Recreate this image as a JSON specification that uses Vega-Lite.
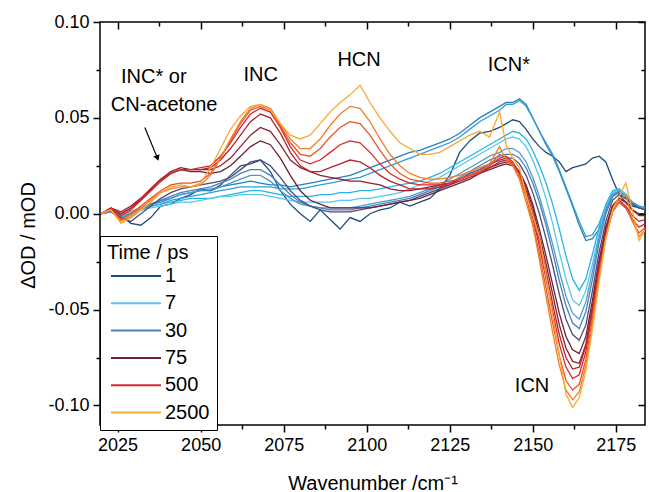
{
"$schema": "https://vega.github.io/schema/vega-lite/v6.json",
"width": 545, "height": 403,
"autosize": "none",
"padding": {"left": 100, "top": 22, "right": 4, "bottom": 67},
"config": {"font": "Liberation Sans", "view": {"stroke": "black", "strokeWidth": 1.5}},
"datasets": {
"spectra": [
{"t":"1","x":2020,"y":0},{"t":"1","x":2023,"y":0.002},{"t":"1","x":2026,"y":-0.001},{"t":"1","x":2029,"y":-0.005},{"t":"1","x":2032,"y":-0.006},{"t":"1","x":2035,"y":-0.002},{"t":"1","x":2038,"y":0.004},{"t":"1","x":2041,"y":0.005},{"t":"1","x":2044,"y":0.008},{"t":"1","x":2047,"y":0.01},{"t":"1","x":2050,"y":0.013},{"t":"1","x":2053,"y":0.012},{"t":"1","x":2056,"y":0.015},{"t":"1","x":2059,"y":0.02},{"t":"1","x":2062,"y":0.025},{"t":"1","x":2065,"y":0.026},{"t":"1","x":2068,"y":0.028},{"t":"1","x":2071,"y":0.022},{"t":"1","x":2074,"y":0.012},{"t":"1","x":2077,"y":0.005},{"t":"1","x":2080,"y":0},{"t":"1","x":2083,"y":-0.004},{"t":"1","x":2086,"y":0.002},{"t":"1","x":2089,"y":-0.003},{"t":"1","x":2092,"y":-0.008},{"t":"1","x":2095,"y":-0.002},{"t":"1","x":2098,"y":-0.004},{"t":"1","x":2101,"y":0},{"t":"1","x":2104,"y":0.002},{"t":"1","x":2107,"y":0.003},{"t":"1","x":2110,"y":0.006},{"t":"1","x":2113,"y":0.004},{"t":"1","x":2116,"y":0.006},{"t":"1","x":2119,"y":0.008},{"t":"1","x":2122,"y":0.013},{"t":"1","x":2125,"y":0.02},{"t":"1","x":2128,"y":0.032},{"t":"1","x":2131,"y":0.038},{"t":"1","x":2134,"y":0.042},{"t":"1","x":2137,"y":0.043},{"t":"1","x":2140,"y":0.045},{"t":"1","x":2142,"y":0.047},{"t":"1","x":2144,"y":0.049},{"t":"1","x":2146,"y":0.048},{"t":"1","x":2148,"y":0.044},{"t":"1","x":2150,"y":0.039},{"t":"1","x":2152,"y":0.035},{"t":"1","x":2154,"y":0.032},{"t":"1","x":2156,"y":0.03},{"t":"1","x":2158,"y":0.027},{"t":"1","x":2160,"y":0.022},{"t":"1","x":2162,"y":0.024},{"t":"1","x":2164,"y":0.025},{"t":"1","x":2166,"y":0.026},{"t":"1","x":2168,"y":0.029},{"t":"1","x":2170,"y":0.03},{"t":"1","x":2172,"y":0.027},{"t":"1","x":2174,"y":0.018},{"t":"1","x":2176,"y":0.01},{"t":"1","x":2178,"y":0.006},{"t":"1","x":2180,"y":0.004},{"t":"1","x":2182,"y":0.003},{"t":"1","x":2184,"y":0.002},
{"t":"2","x":2020,"y":0},{"t":"2","x":2023,"y":0.001},{"t":"2","x":2026,"y":-0.002},{"t":"2","x":2029,"y":0.001},{"t":"2","x":2032,"y":0.003},{"t":"2","x":2035,"y":0.005},{"t":"2","x":2038,"y":0.006},{"t":"2","x":2041,"y":0.008},{"t":"2","x":2044,"y":0.01},{"t":"2","x":2047,"y":0.011},{"t":"2","x":2050,"y":0.012},{"t":"2","x":2053,"y":0.012},{"t":"2","x":2056,"y":0.014},{"t":"2","x":2059,"y":0.015},{"t":"2","x":2062,"y":0.016},{"t":"2","x":2065,"y":0.017},{"t":"2","x":2068,"y":0.016},{"t":"2","x":2071,"y":0.015},{"t":"2","x":2074,"y":0.015},{"t":"2","x":2077,"y":0.014},{"t":"2","x":2080,"y":0.015},{"t":"2","x":2083,"y":0.016},{"t":"2","x":2086,"y":0.017},{"t":"2","x":2089,"y":0.018},{"t":"2","x":2092,"y":0.019},{"t":"2","x":2095,"y":0.02},{"t":"2","x":2098,"y":0.022},{"t":"2","x":2101,"y":0.024},{"t":"2","x":2104,"y":0.026},{"t":"2","x":2107,"y":0.028},{"t":"2","x":2110,"y":0.03},{"t":"2","x":2113,"y":0.032},{"t":"2","x":2116,"y":0.033},{"t":"2","x":2119,"y":0.035},{"t":"2","x":2122,"y":0.037},{"t":"2","x":2125,"y":0.039},{"t":"2","x":2128,"y":0.042},{"t":"2","x":2131,"y":0.046},{"t":"2","x":2134,"y":0.05},{"t":"2","x":2137,"y":0.053},{"t":"2","x":2140,"y":0.056},{"t":"2","x":2142,"y":0.058},{"t":"2","x":2144,"y":0.058},{"t":"2","x":2146,"y":0.06},{"t":"2","x":2148,"y":0.057},{"t":"2","x":2150,"y":0.05},{"t":"2","x":2152,"y":0.043},{"t":"2","x":2154,"y":0.036},{"t":"2","x":2156,"y":0.03},{"t":"2","x":2158,"y":0.022},{"t":"2","x":2160,"y":0.013},{"t":"2","x":2162,"y":0.004},{"t":"2","x":2164,"y":-0.006},{"t":"2","x":2166,"y":-0.014},{"t":"2","x":2168,"y":-0.013},{"t":"2","x":2170,"y":-0.008},{"t":"2","x":2172,"y":0.001},{"t":"2","x":2174,"y":0.009},{"t":"2","x":2176,"y":0.012},{"t":"2","x":2178,"y":0.01},{"t":"2","x":2180,"y":0.005},{"t":"2","x":2182,"y":0.003},{"t":"2","x":2184,"y":0.002},
{"t":"3","x":2020,"y":0},{"t":"3","x":2023,"y":0.001},{"t":"3","x":2026,"y":-0.002},{"t":"3","x":2029,"y":0},{"t":"3","x":2032,"y":0.002},{"t":"3","x":2035,"y":0.004},{"t":"3","x":2038,"y":0.005},{"t":"3","x":2041,"y":0.007},{"t":"3","x":2044,"y":0.008},{"t":"3","x":2047,"y":0.009},{"t":"3","x":2050,"y":0.01},{"t":"3","x":2053,"y":0.011},{"t":"3","x":2056,"y":0.012},{"t":"3","x":2059,"y":0.013},{"t":"3","x":2062,"y":0.014},{"t":"3","x":2065,"y":0.014},{"t":"3","x":2068,"y":0.014},{"t":"3","x":2071,"y":0.014},{"t":"3","x":2074,"y":0.013},{"t":"3","x":2077,"y":0.013},{"t":"3","x":2080,"y":0.013},{"t":"3","x":2083,"y":0.014},{"t":"3","x":2086,"y":0.015},{"t":"3","x":2089,"y":0.016},{"t":"3","x":2092,"y":0.017},{"t":"3","x":2095,"y":0.018},{"t":"3","x":2098,"y":0.019},{"t":"3","x":2101,"y":0.021},{"t":"3","x":2104,"y":0.023},{"t":"3","x":2107,"y":0.025},{"t":"3","x":2110,"y":0.027},{"t":"3","x":2113,"y":0.029},{"t":"3","x":2116,"y":0.031},{"t":"3","x":2119,"y":0.033},{"t":"3","x":2122,"y":0.035},{"t":"3","x":2125,"y":0.037},{"t":"3","x":2128,"y":0.04},{"t":"3","x":2131,"y":0.044},{"t":"3","x":2134,"y":0.048},{"t":"3","x":2137,"y":0.051},{"t":"3","x":2140,"y":0.054},{"t":"3","x":2142,"y":0.057},{"t":"3","x":2144,"y":0.057},{"t":"3","x":2146,"y":0.059},{"t":"3","x":2148,"y":0.056},{"t":"3","x":2150,"y":0.05},{"t":"3","x":2152,"y":0.043},{"t":"3","x":2154,"y":0.037},{"t":"3","x":2156,"y":0.031},{"t":"3","x":2158,"y":0.023},{"t":"3","x":2160,"y":0.014},{"t":"3","x":2162,"y":0.005},{"t":"3","x":2164,"y":-0.004},{"t":"3","x":2166,"y":-0.012},{"t":"3","x":2168,"y":-0.011},{"t":"3","x":2170,"y":-0.005},{"t":"3","x":2172,"y":0.004},{"t":"3","x":2174,"y":0.011},{"t":"3","x":2176,"y":0.013},{"t":"3","x":2178,"y":0.01},{"t":"3","x":2180,"y":0.006},{"t":"3","x":2182,"y":0.004},{"t":"3","x":2184,"y":0.003},
{"t":"5","x":2020,"y":0},{"t":"5","x":2023,"y":0.002},{"t":"5","x":2026,"y":-0.002},{"t":"5","x":2029,"y":0},{"t":"5","x":2032,"y":0.002},{"t":"5","x":2035,"y":0.004},{"t":"5","x":2038,"y":0.005},{"t":"5","x":2041,"y":0.006},{"t":"5","x":2044,"y":0.007},{"t":"5","x":2047,"y":0.008},{"t":"5","x":2050,"y":0.008},{"t":"5","x":2053,"y":0.008},{"t":"5","x":2056,"y":0.009},{"t":"5","x":2059,"y":0.01},{"t":"5","x":2062,"y":0.011},{"t":"5","x":2065,"y":0.012},{"t":"5","x":2068,"y":0.012},{"t":"5","x":2071,"y":0.011},{"t":"5","x":2074,"y":0.01},{"t":"5","x":2077,"y":0.009},{"t":"5","x":2080,"y":0.009},{"t":"5","x":2083,"y":0.009},{"t":"5","x":2086,"y":0.01},{"t":"5","x":2089,"y":0.01},{"t":"5","x":2092,"y":0.011},{"t":"5","x":2095,"y":0.011},{"t":"5","x":2098,"y":0.012},{"t":"5","x":2101,"y":0.012},{"t":"5","x":2104,"y":0.013},{"t":"5","x":2107,"y":0.014},{"t":"5","x":2110,"y":0.015},{"t":"5","x":2113,"y":0.016},{"t":"5","x":2116,"y":0.017},{"t":"5","x":2119,"y":0.019},{"t":"5","x":2122,"y":0.021},{"t":"5","x":2125,"y":0.024},{"t":"5","x":2128,"y":0.027},{"t":"5","x":2131,"y":0.03},{"t":"5","x":2134,"y":0.033},{"t":"5","x":2137,"y":0.036},{"t":"5","x":2140,"y":0.039},{"t":"5","x":2142,"y":0.041},{"t":"5","x":2144,"y":0.043},{"t":"5","x":2146,"y":0.042},{"t":"5","x":2148,"y":0.039},{"t":"5","x":2150,"y":0.033},{"t":"5","x":2152,"y":0.025},{"t":"5","x":2154,"y":0.016},{"t":"5","x":2156,"y":0.005},{"t":"5","x":2158,"y":-0.008},{"t":"5","x":2160,"y":-0.022},{"t":"5","x":2162,"y":-0.034},{"t":"5","x":2164,"y":-0.04},{"t":"5","x":2166,"y":-0.034},{"t":"5","x":2168,"y":-0.021},{"t":"5","x":2170,"y":-0.007},{"t":"5","x":2172,"y":0.005},{"t":"5","x":2174,"y":0.012},{"t":"5","x":2176,"y":0.013},{"t":"5","x":2178,"y":0.01},{"t":"5","x":2180,"y":0.006},{"t":"5","x":2182,"y":0.004},{"t":"5","x":2184,"y":0.003},
{"t":"7","x":2020,"y":0},{"t":"7","x":2023,"y":0.001},{"t":"7","x":2026,"y":-0.001},{"t":"7","x":2029,"y":0.001},{"t":"7","x":2032,"y":0.002},{"t":"7","x":2035,"y":0.003},{"t":"7","x":2038,"y":0.004},{"t":"7","x":2041,"y":0.005},{"t":"7","x":2044,"y":0.006},{"t":"7","x":2047,"y":0.006},{"t":"7","x":2050,"y":0.007},{"t":"7","x":2053,"y":0.008},{"t":"7","x":2056,"y":0.009},{"t":"7","x":2059,"y":0.009},{"t":"7","x":2062,"y":0.01},{"t":"7","x":2065,"y":0.01},{"t":"7","x":2068,"y":0.01},{"t":"7","x":2071,"y":0.009},{"t":"7","x":2074,"y":0.008},{"t":"7","x":2077,"y":0.007},{"t":"7","x":2080,"y":0.006},{"t":"7","x":2083,"y":0.006},{"t":"7","x":2086,"y":0.006},{"t":"7","x":2089,"y":0.006},{"t":"7","x":2092,"y":0.007},{"t":"7","x":2095,"y":0.007},{"t":"7","x":2098,"y":0.008},{"t":"7","x":2101,"y":0.008},{"t":"7","x":2104,"y":0.009},{"t":"7","x":2107,"y":0.01},{"t":"7","x":2110,"y":0.011},{"t":"7","x":2113,"y":0.013},{"t":"7","x":2116,"y":0.015},{"t":"7","x":2119,"y":0.017},{"t":"7","x":2122,"y":0.019},{"t":"7","x":2125,"y":0.022},{"t":"7","x":2128,"y":0.025},{"t":"7","x":2131,"y":0.028},{"t":"7","x":2134,"y":0.031},{"t":"7","x":2137,"y":0.034},{"t":"7","x":2140,"y":0.037},{"t":"7","x":2142,"y":0.039},{"t":"7","x":2144,"y":0.04},{"t":"7","x":2146,"y":0.039},{"t":"7","x":2148,"y":0.035},{"t":"7","x":2150,"y":0.028},{"t":"7","x":2152,"y":0.019},{"t":"7","x":2154,"y":0.008},{"t":"7","x":2156,"y":-0.005},{"t":"7","x":2158,"y":-0.02},{"t":"7","x":2160,"y":-0.034},{"t":"7","x":2162,"y":-0.045},{"t":"7","x":2164,"y":-0.048},{"t":"7","x":2166,"y":-0.04},{"t":"7","x":2168,"y":-0.026},{"t":"7","x":2170,"y":-0.01},{"t":"7","x":2172,"y":0.003},{"t":"7","x":2174,"y":0.011},{"t":"7","x":2176,"y":0.013},{"t":"7","x":2178,"y":0.01},{"t":"7","x":2180,"y":0.006},{"t":"7","x":2182,"y":0.004},{"t":"7","x":2184,"y":0.003},
{"t":"15","x":2020,"y":0},{"t":"15","x":2023,"y":0.002},{"t":"15","x":2026,"y":-0.003},{"t":"15","x":2029,"y":0},{"t":"15","x":2032,"y":0.003},{"t":"15","x":2035,"y":0.005},{"t":"15","x":2038,"y":0.007},{"t":"15","x":2041,"y":0.008},{"t":"15","x":2044,"y":0.01},{"t":"15","x":2047,"y":0.011},{"t":"15","x":2050,"y":0.012},{"t":"15","x":2053,"y":0.013},{"t":"15","x":2056,"y":0.014},{"t":"15","x":2059,"y":0.016},{"t":"15","x":2062,"y":0.018},{"t":"15","x":2065,"y":0.02},{"t":"15","x":2068,"y":0.02},{"t":"15","x":2071,"y":0.017},{"t":"15","x":2074,"y":0.012},{"t":"15","x":2077,"y":0.008},{"t":"15","x":2080,"y":0.005},{"t":"15","x":2083,"y":0.004},{"t":"15","x":2086,"y":0.003},{"t":"15","x":2089,"y":0.003},{"t":"15","x":2092,"y":0.003},{"t":"15","x":2095,"y":0.003},{"t":"15","x":2098,"y":0.004},{"t":"15","x":2101,"y":0.005},{"t":"15","x":2104,"y":0.006},{"t":"15","x":2107,"y":0.007},{"t":"15","x":2110,"y":0.008},{"t":"15","x":2113,"y":0.009},{"t":"15","x":2116,"y":0.011},{"t":"15","x":2119,"y":0.013},{"t":"15","x":2122,"y":0.015},{"t":"15","x":2125,"y":0.018},{"t":"15","x":2128,"y":0.021},{"t":"15","x":2131,"y":0.024},{"t":"15","x":2134,"y":0.027},{"t":"15","x":2137,"y":0.03},{"t":"15","x":2140,"y":0.032},{"t":"15","x":2142,"y":0.034},{"t":"15","x":2144,"y":0.034},{"t":"15","x":2146,"y":0.032},{"t":"15","x":2148,"y":0.027},{"t":"15","x":2150,"y":0.019},{"t":"15","x":2152,"y":0.009},{"t":"15","x":2154,"y":-0.003},{"t":"15","x":2156,"y":-0.016},{"t":"15","x":2158,"y":-0.03},{"t":"15","x":2160,"y":-0.043},{"t":"15","x":2162,"y":-0.052},{"t":"15","x":2164,"y":-0.055},{"t":"15","x":2166,"y":-0.046},{"t":"15","x":2168,"y":-0.03},{"t":"15","x":2170,"y":-0.012},{"t":"15","x":2172,"y":0.002},{"t":"15","x":2174,"y":0.01},{"t":"15","x":2176,"y":0.012},{"t":"15","x":2178,"y":0.009},{"t":"15","x":2180,"y":0.006},{"t":"15","x":2182,"y":0.004},{"t":"15","x":2184,"y":0.003},
{"t":"30","x":2020,"y":0},{"t":"30","x":2023,"y":0.001},{"t":"30","x":2026,"y":-0.003},{"t":"30","x":2029,"y":-0.002},{"t":"30","x":2032,"y":0.002},{"t":"30","x":2035,"y":0.005},{"t":"30","x":2038,"y":0.007},{"t":"30","x":2041,"y":0.009},{"t":"30","x":2044,"y":0.011},{"t":"30","x":2047,"y":0.012},{"t":"30","x":2050,"y":0.013},{"t":"30","x":2053,"y":0.014},{"t":"30","x":2056,"y":0.016},{"t":"30","x":2059,"y":0.018},{"t":"30","x":2062,"y":0.021},{"t":"30","x":2065,"y":0.023},{"t":"30","x":2068,"y":0.023},{"t":"30","x":2071,"y":0.02},{"t":"30","x":2074,"y":0.015},{"t":"30","x":2077,"y":0.01},{"t":"30","x":2080,"y":0.006},{"t":"30","x":2083,"y":0.004},{"t":"30","x":2086,"y":0.003},{"t":"30","x":2089,"y":0.002},{"t":"30","x":2092,"y":0.002},{"t":"30","x":2095,"y":0.002},{"t":"30","x":2098,"y":0.003},{"t":"30","x":2101,"y":0.004},{"t":"30","x":2104,"y":0.005},{"t":"30","x":2107,"y":0.006},{"t":"30","x":2110,"y":0.007},{"t":"30","x":2113,"y":0.008},{"t":"30","x":2116,"y":0.01},{"t":"30","x":2119,"y":0.012},{"t":"30","x":2122,"y":0.014},{"t":"30","x":2125,"y":0.016},{"t":"30","x":2128,"y":0.019},{"t":"30","x":2131,"y":0.022},{"t":"30","x":2134,"y":0.025},{"t":"30","x":2137,"y":0.028},{"t":"30","x":2140,"y":0.03},{"t":"30","x":2142,"y":0.031},{"t":"30","x":2144,"y":0.031},{"t":"30","x":2146,"y":0.029},{"t":"30","x":2148,"y":0.024},{"t":"30","x":2150,"y":0.016},{"t":"30","x":2152,"y":0.006},{"t":"30","x":2154,"y":-0.006},{"t":"30","x":2156,"y":-0.02},{"t":"30","x":2158,"y":-0.035},{"t":"30","x":2160,"y":-0.048},{"t":"30","x":2162,"y":-0.057},{"t":"30","x":2164,"y":-0.06},{"t":"30","x":2166,"y":-0.051},{"t":"30","x":2168,"y":-0.034},{"t":"30","x":2170,"y":-0.015},{"t":"30","x":2172,"y":0},{"t":"30","x":2174,"y":0.009},{"t":"30","x":2176,"y":0.011},{"t":"30","x":2178,"y":0.008},{"t":"30","x":2180,"y":0.005},{"t":"30","x":2182,"y":0.003},{"t":"30","x":2184,"y":0.002},
{"t":"50","x":2020,"y":0},{"t":"50","x":2023,"y":0.002},{"t":"50","x":2026,"y":-0.002},{"t":"50","x":2029,"y":-0.004},{"t":"50","x":2032,"y":0},{"t":"50","x":2035,"y":0.004},{"t":"50","x":2038,"y":0.008},{"t":"50","x":2041,"y":0.011},{"t":"50","x":2044,"y":0.013},{"t":"50","x":2047,"y":0.014},{"t":"50","x":2050,"y":0.015},{"t":"50","x":2053,"y":0.016},{"t":"50","x":2056,"y":0.017},{"t":"50","x":2059,"y":0.019},{"t":"50","x":2062,"y":0.023},{"t":"50","x":2065,"y":0.027},{"t":"50","x":2068,"y":0.028},{"t":"50","x":2071,"y":0.025},{"t":"50","x":2074,"y":0.019},{"t":"50","x":2077,"y":0.012},{"t":"50","x":2080,"y":0.007},{"t":"50","x":2083,"y":0.004},{"t":"50","x":2086,"y":0.002},{"t":"50","x":2089,"y":0.001},{"t":"50","x":2092,"y":0.001},{"t":"50","x":2095,"y":0.001},{"t":"50","x":2098,"y":0.002},{"t":"50","x":2101,"y":0.003},{"t":"50","x":2104,"y":0.004},{"t":"50","x":2107,"y":0.005},{"t":"50","x":2110,"y":0.006},{"t":"50","x":2113,"y":0.007},{"t":"50","x":2116,"y":0.009},{"t":"50","x":2119,"y":0.011},{"t":"50","x":2122,"y":0.013},{"t":"50","x":2125,"y":0.015},{"t":"50","x":2128,"y":0.018},{"t":"50","x":2131,"y":0.021},{"t":"50","x":2134,"y":0.023},{"t":"50","x":2137,"y":0.026},{"t":"50","x":2140,"y":0.028},{"t":"50","x":2142,"y":0.029},{"t":"50","x":2144,"y":0.029},{"t":"50","x":2146,"y":0.026},{"t":"50","x":2148,"y":0.02},{"t":"50","x":2150,"y":0.011},{"t":"50","x":2152,"y":0},{"t":"50","x":2154,"y":-0.013},{"t":"50","x":2156,"y":-0.027},{"t":"50","x":2158,"y":-0.042},{"t":"50","x":2160,"y":-0.055},{"t":"50","x":2162,"y":-0.063},{"t":"50","x":2164,"y":-0.066},{"t":"50","x":2166,"y":-0.058},{"t":"50","x":2168,"y":-0.04},{"t":"50","x":2170,"y":-0.02},{"t":"50","x":2172,"y":-0.004},{"t":"50","x":2174,"y":0.007},{"t":"50","x":2176,"y":0.01},{"t":"50","x":2178,"y":0.008},{"t":"50","x":2180,"y":0.005},{"t":"50","x":2182,"y":0.003},{"t":"50","x":2184,"y":0.002},
{"t":"75","x":2020,"y":0},{"t":"75","x":2023,"y":0.002},{"t":"75","x":2026,"y":0},{"t":"75","x":2029,"y":0.003},{"t":"75","x":2032,"y":0.007},{"t":"75","x":2035,"y":0.012},{"t":"75","x":2038,"y":0.017},{"t":"75","x":2041,"y":0.021},{"t":"75","x":2044,"y":0.023},{"t":"75","x":2047,"y":0.022},{"t":"75","x":2050,"y":0.022},{"t":"75","x":2053,"y":0.021},{"t":"75","x":2056,"y":0.022},{"t":"75","x":2059,"y":0.025},{"t":"75","x":2062,"y":0.03},{"t":"75","x":2065,"y":0.035},{"t":"75","x":2068,"y":0.038},{"t":"75","x":2071,"y":0.036},{"t":"75","x":2074,"y":0.029},{"t":"75","x":2077,"y":0.02},{"t":"75","x":2080,"y":0.012},{"t":"75","x":2083,"y":0.007},{"t":"75","x":2086,"y":0.005},{"t":"75","x":2089,"y":0.003},{"t":"75","x":2092,"y":0.003},{"t":"75","x":2095,"y":0.003},{"t":"75","x":2098,"y":0.003},{"t":"75","x":2101,"y":0.003},{"t":"75","x":2104,"y":0.004},{"t":"75","x":2107,"y":0.005},{"t":"75","x":2110,"y":0.006},{"t":"75","x":2113,"y":0.007},{"t":"75","x":2116,"y":0.008},{"t":"75","x":2119,"y":0.01},{"t":"75","x":2122,"y":0.012},{"t":"75","x":2125,"y":0.014},{"t":"75","x":2128,"y":0.016},{"t":"75","x":2131,"y":0.018},{"t":"75","x":2134,"y":0.021},{"t":"75","x":2137,"y":0.023},{"t":"75","x":2140,"y":0.025},{"t":"75","x":2142,"y":0.026},{"t":"75","x":2144,"y":0.025},{"t":"75","x":2146,"y":0.022},{"t":"75","x":2148,"y":0.015},{"t":"75","x":2150,"y":0.005},{"t":"75","x":2152,"y":-0.008},{"t":"75","x":2154,"y":-0.022},{"t":"75","x":2156,"y":-0.037},{"t":"75","x":2158,"y":-0.052},{"t":"75","x":2160,"y":-0.064},{"t":"75","x":2162,"y":-0.071},{"t":"75","x":2164,"y":-0.073},{"t":"75","x":2166,"y":-0.064},{"t":"75","x":2168,"y":-0.045},{"t":"75","x":2170,"y":-0.024},{"t":"75","x":2172,"y":-0.007},{"t":"75","x":2174,"y":0.004},{"t":"75","x":2176,"y":0.008},{"t":"75","x":2178,"y":0.006},{"t":"75","x":2180,"y":0.002},{"t":"75","x":2182,"y":0},{"t":"75","x":2184,"y":0},
{"t":"100","x":2020,"y":0},{"t":"100","x":2023,"y":0.003},{"t":"100","x":2026,"y":0.001},{"t":"100","x":2029,"y":0.004},{"t":"100","x":2032,"y":0.008},{"t":"100","x":2035,"y":0.013},{"t":"100","x":2038,"y":0.018},{"t":"100","x":2041,"y":0.022},{"t":"100","x":2044,"y":0.024},{"t":"100","x":2047,"y":0.023},{"t":"100","x":2050,"y":0.023},{"t":"100","x":2053,"y":0.023},{"t":"100","x":2056,"y":0.025},{"t":"100","x":2059,"y":0.029},{"t":"100","x":2062,"y":0.035},{"t":"100","x":2065,"y":0.041},{"t":"100","x":2068,"y":0.045},{"t":"100","x":2071,"y":0.043},{"t":"100","x":2074,"y":0.036},{"t":"100","x":2077,"y":0.028},{"t":"100","x":2080,"y":0.024},{"t":"100","x":2083,"y":0.022},{"t":"100","x":2086,"y":0.02},{"t":"100","x":2089,"y":0.019},{"t":"100","x":2092,"y":0.018},{"t":"100","x":2095,"y":0.017},{"t":"100","x":2098,"y":0.017},{"t":"100","x":2101,"y":0.016},{"t":"100","x":2104,"y":0.015},{"t":"100","x":2107,"y":0.013},{"t":"100","x":2110,"y":0.012},{"t":"100","x":2113,"y":0.012},{"t":"100","x":2116,"y":0.013},{"t":"100","x":2119,"y":0.014},{"t":"100","x":2122,"y":0.015},{"t":"100","x":2125,"y":0.016},{"t":"100","x":2128,"y":0.018},{"t":"100","x":2131,"y":0.02},{"t":"100","x":2134,"y":0.022},{"t":"100","x":2137,"y":0.024},{"t":"100","x":2140,"y":0.026},{"t":"100","x":2142,"y":0.027},{"t":"100","x":2144,"y":0.026},{"t":"100","x":2146,"y":0.022},{"t":"100","x":2148,"y":0.014},{"t":"100","x":2150,"y":0.003},{"t":"100","x":2152,"y":-0.011},{"t":"100","x":2154,"y":-0.026},{"t":"100","x":2156,"y":-0.042},{"t":"100","x":2158,"y":-0.058},{"t":"100","x":2160,"y":-0.07},{"t":"100","x":2162,"y":-0.077},{"t":"100","x":2164,"y":-0.078},{"t":"100","x":2166,"y":-0.068},{"t":"100","x":2168,"y":-0.048},{"t":"100","x":2170,"y":-0.026},{"t":"100","x":2172,"y":-0.008},{"t":"100","x":2174,"y":0.004},{"t":"100","x":2176,"y":0.008},{"t":"100","x":2178,"y":0.006},{"t":"100","x":2180,"y":0.002},{"t":"100","x":2182,"y":-0.001},{"t":"100","x":2184,"y":-0.001},
{"t":"200","x":2020,"y":0},{"t":"200","x":2023,"y":0.003},{"t":"200","x":2026,"y":0},{"t":"200","x":2029,"y":0.003},{"t":"200","x":2032,"y":0.008},{"t":"200","x":2035,"y":0.013},{"t":"200","x":2038,"y":0.018},{"t":"200","x":2041,"y":0.021},{"t":"200","x":2044,"y":0.023},{"t":"200","x":2047,"y":0.023},{"t":"200","x":2050,"y":0.023},{"t":"200","x":2053,"y":0.024},{"t":"200","x":2056,"y":0.028},{"t":"200","x":2059,"y":0.034},{"t":"200","x":2062,"y":0.041},{"t":"200","x":2065,"y":0.048},{"t":"200","x":2068,"y":0.052},{"t":"200","x":2071,"y":0.05},{"t":"200","x":2074,"y":0.042},{"t":"200","x":2077,"y":0.032},{"t":"200","x":2080,"y":0.025},{"t":"200","x":2083,"y":0.022},{"t":"200","x":2086,"y":0.022},{"t":"200","x":2089,"y":0.024},{"t":"200","x":2092,"y":0.026},{"t":"200","x":2095,"y":0.028},{"t":"200","x":2098,"y":0.027},{"t":"200","x":2101,"y":0.024},{"t":"200","x":2104,"y":0.02},{"t":"200","x":2107,"y":0.017},{"t":"200","x":2110,"y":0.015},{"t":"200","x":2113,"y":0.013},{"t":"200","x":2116,"y":0.013},{"t":"200","x":2119,"y":0.013},{"t":"200","x":2122,"y":0.014},{"t":"200","x":2125,"y":0.015},{"t":"200","x":2128,"y":0.017},{"t":"200","x":2131,"y":0.019},{"t":"200","x":2134,"y":0.021},{"t":"200","x":2137,"y":0.024},{"t":"200","x":2140,"y":0.027},{"t":"200","x":2142,"y":0.028},{"t":"200","x":2144,"y":0.026},{"t":"200","x":2146,"y":0.021},{"t":"200","x":2148,"y":0.012},{"t":"200","x":2150,"y":0},{"t":"200","x":2152,"y":-0.014},{"t":"200","x":2154,"y":-0.03},{"t":"200","x":2156,"y":-0.047},{"t":"200","x":2158,"y":-0.063},{"t":"200","x":2160,"y":-0.075},{"t":"200","x":2162,"y":-0.081},{"t":"200","x":2164,"y":-0.08},{"t":"200","x":2166,"y":-0.069},{"t":"200","x":2168,"y":-0.049},{"t":"200","x":2170,"y":-0.027},{"t":"200","x":2172,"y":-0.01},{"t":"200","x":2174,"y":0.002},{"t":"200","x":2176,"y":0.007},{"t":"200","x":2178,"y":0.004},{"t":"200","x":2180,"y":-0.001},{"t":"200","x":2182,"y":-0.004},{"t":"200","x":2184,"y":-0.003},
{"t":"500","x":2020,"y":0},{"t":"500","x":2023,"y":0.003},{"t":"500","x":2026,"y":-0.001},{"t":"500","x":2029,"y":0.002},{"t":"500","x":2032,"y":0.007},{"t":"500","x":2035,"y":0.012},{"t":"500","x":2038,"y":0.017},{"t":"500","x":2041,"y":0.021},{"t":"500","x":2044,"y":0.023},{"t":"500","x":2047,"y":0.023},{"t":"500","x":2050,"y":0.024},{"t":"500","x":2053,"y":0.025},{"t":"500","x":2056,"y":0.03},{"t":"500","x":2059,"y":0.037},{"t":"500","x":2062,"y":0.045},{"t":"500","x":2065,"y":0.052},{"t":"500","x":2068,"y":0.055},{"t":"500","x":2071,"y":0.053},{"t":"500","x":2074,"y":0.045},{"t":"500","x":2077,"y":0.035},{"t":"500","x":2080,"y":0.028},{"t":"500","x":2083,"y":0.026},{"t":"500","x":2086,"y":0.028},{"t":"500","x":2089,"y":0.032},{"t":"500","x":2092,"y":0.036},{"t":"500","x":2095,"y":0.038},{"t":"500","x":2098,"y":0.037},{"t":"500","x":2101,"y":0.032},{"t":"500","x":2104,"y":0.026},{"t":"500","x":2107,"y":0.021},{"t":"500","x":2110,"y":0.018},{"t":"500","x":2113,"y":0.016},{"t":"500","x":2116,"y":0.015},{"t":"500","x":2119,"y":0.015},{"t":"500","x":2122,"y":0.015},{"t":"500","x":2125,"y":0.016},{"t":"500","x":2128,"y":0.018},{"t":"500","x":2131,"y":0.02},{"t":"500","x":2134,"y":0.022},{"t":"500","x":2137,"y":0.025},{"t":"500","x":2140,"y":0.029},{"t":"500","x":2142,"y":0.03},{"t":"500","x":2144,"y":0.027},{"t":"500","x":2146,"y":0.021},{"t":"500","x":2148,"y":0.011},{"t":"500","x":2150,"y":-0.002},{"t":"500","x":2152,"y":-0.017},{"t":"500","x":2154,"y":-0.034},{"t":"500","x":2156,"y":-0.051},{"t":"500","x":2158,"y":-0.068},{"t":"500","x":2160,"y":-0.08},{"t":"500","x":2162,"y":-0.086},{"t":"500","x":2164,"y":-0.084},{"t":"500","x":2166,"y":-0.072},{"t":"500","x":2168,"y":-0.051},{"t":"500","x":2170,"y":-0.029},{"t":"500","x":2172,"y":-0.011},{"t":"500","x":2174,"y":0.001},{"t":"500","x":2176,"y":0.006},{"t":"500","x":2178,"y":0.003},{"t":"500","x":2180,"y":-0.003},{"t":"500","x":2182,"y":-0.007},{"t":"500","x":2184,"y":-0.005},
{"t":"1000","x":2020,"y":0},{"t":"1000","x":2023,"y":0.002},{"t":"1000","x":2026,"y":-0.003},{"t":"1000","x":2029,"y":0},{"t":"1000","x":2032,"y":0.004},{"t":"1000","x":2035,"y":0.008},{"t":"1000","x":2038,"y":0.012},{"t":"1000","x":2041,"y":0.015},{"t":"1000","x":2044,"y":0.016},{"t":"1000","x":2047,"y":0.016},{"t":"1000","x":2050,"y":0.017},{"t":"1000","x":2053,"y":0.021},{"t":"1000","x":2056,"y":0.029},{"t":"1000","x":2059,"y":0.038},{"t":"1000","x":2062,"y":0.047},{"t":"1000","x":2065,"y":0.054},{"t":"1000","x":2068,"y":0.056},{"t":"1000","x":2071,"y":0.054},{"t":"1000","x":2074,"y":0.046},{"t":"1000","x":2077,"y":0.037},{"t":"1000","x":2080,"y":0.031},{"t":"1000","x":2083,"y":0.03},{"t":"1000","x":2086,"y":0.034},{"t":"1000","x":2089,"y":0.04},{"t":"1000","x":2092,"y":0.045},{"t":"1000","x":2095,"y":0.048},{"t":"1000","x":2098,"y":0.047},{"t":"1000","x":2101,"y":0.041},{"t":"1000","x":2104,"y":0.033},{"t":"1000","x":2107,"y":0.026},{"t":"1000","x":2110,"y":0.021},{"t":"1000","x":2113,"y":0.018},{"t":"1000","x":2116,"y":0.017},{"t":"1000","x":2119,"y":0.016},{"t":"1000","x":2122,"y":0.016},{"t":"1000","x":2125,"y":0.017},{"t":"1000","x":2128,"y":0.018},{"t":"1000","x":2131,"y":0.02},{"t":"1000","x":2134,"y":0.022},{"t":"1000","x":2137,"y":0.025},{"t":"1000","x":2140,"y":0.031},{"t":"1000","x":2142,"y":0.029},{"t":"1000","x":2144,"y":0.026},{"t":"1000","x":2146,"y":0.019},{"t":"1000","x":2148,"y":0.009},{"t":"1000","x":2150,"y":-0.005},{"t":"1000","x":2152,"y":-0.021},{"t":"1000","x":2154,"y":-0.039},{"t":"1000","x":2156,"y":-0.057},{"t":"1000","x":2158,"y":-0.074},{"t":"1000","x":2160,"y":-0.087},{"t":"1000","x":2162,"y":-0.092},{"t":"1000","x":2164,"y":-0.089},{"t":"1000","x":2166,"y":-0.076},{"t":"1000","x":2168,"y":-0.054},{"t":"1000","x":2170,"y":-0.031},{"t":"1000","x":2172,"y":-0.012},{"t":"1000","x":2174,"y":0.001},{"t":"1000","x":2176,"y":0.006},{"t":"1000","x":2178,"y":0.004},{"t":"1000","x":2180,"y":-0.004},{"t":"1000","x":2182,"y":-0.01},{"t":"1000","x":2184,"y":-0.007},
{"t":"1500","x":2020,"y":0},{"t":"1500","x":2023,"y":0.002},{"t":"1500","x":2026,"y":-0.004},{"t":"1500","x":2029,"y":-0.001},{"t":"1500","x":2032,"y":0.003},{"t":"1500","x":2035,"y":0.007},{"t":"1500","x":2038,"y":0.011},{"t":"1500","x":2041,"y":0.013},{"t":"1500","x":2044,"y":0.014},{"t":"1500","x":2047,"y":0.014},{"t":"1500","x":2050,"y":0.015},{"t":"1500","x":2053,"y":0.02},{"t":"1500","x":2056,"y":0.029},{"t":"1500","x":2059,"y":0.039},{"t":"1500","x":2062,"y":0.048},{"t":"1500","x":2065,"y":0.055},{"t":"1500","x":2068,"y":0.057},{"t":"1500","x":2071,"y":0.055},{"t":"1500","x":2074,"y":0.047},{"t":"1500","x":2077,"y":0.039},{"t":"1500","x":2080,"y":0.034},{"t":"1500","x":2083,"y":0.034},{"t":"1500","x":2086,"y":0.039},{"t":"1500","x":2089,"y":0.046},{"t":"1500","x":2092,"y":0.052},{"t":"1500","x":2095,"y":0.056},{"t":"1500","x":2098,"y":0.055},{"t":"1500","x":2101,"y":0.048},{"t":"1500","x":2104,"y":0.039},{"t":"1500","x":2107,"y":0.031},{"t":"1500","x":2110,"y":0.025},{"t":"1500","x":2113,"y":0.021},{"t":"1500","x":2116,"y":0.019},{"t":"1500","x":2119,"y":0.018},{"t":"1500","x":2122,"y":0.018},{"t":"1500","x":2125,"y":0.019},{"t":"1500","x":2128,"y":0.02},{"t":"1500","x":2131,"y":0.022},{"t":"1500","x":2134,"y":0.024},{"t":"1500","x":2137,"y":0.026},{"t":"1500","x":2140,"y":0.035},{"t":"1500","x":2142,"y":0.028},{"t":"1500","x":2144,"y":0.025},{"t":"1500","x":2146,"y":0.018},{"t":"1500","x":2148,"y":0.006},{"t":"1500","x":2150,"y":-0.006},{"t":"1500","x":2152,"y":-0.024},{"t":"1500","x":2154,"y":-0.043},{"t":"1500","x":2156,"y":-0.062},{"t":"1500","x":2158,"y":-0.079},{"t":"1500","x":2160,"y":-0.092},{"t":"1500","x":2162,"y":-0.097},{"t":"1500","x":2164,"y":-0.093},{"t":"1500","x":2166,"y":-0.079},{"t":"1500","x":2168,"y":-0.057},{"t":"1500","x":2170,"y":-0.033},{"t":"1500","x":2172,"y":-0.013},{"t":"1500","x":2174,"y":0.001},{"t":"1500","x":2176,"y":0.007},{"t":"1500","x":2178,"y":0.01},{"t":"1500","x":2180,"y":-0.003},{"t":"1500","x":2182,"y":-0.012},{"t":"1500","x":2184,"y":-0.008},
{"t":"2500","x":2020,"y":0},{"t":"2500","x":2023,"y":0.002},{"t":"2500","x":2026,"y":-0.005},{"t":"2500","x":2029,"y":-0.002},{"t":"2500","x":2032,"y":0.002},{"t":"2500","x":2035,"y":0.006},{"t":"2500","x":2038,"y":0.011},{"t":"2500","x":2041,"y":0.014},{"t":"2500","x":2044,"y":0.015},{"t":"2500","x":2047,"y":0.014},{"t":"2500","x":2050,"y":0.016},{"t":"2500","x":2053,"y":0.024},{"t":"2500","x":2056,"y":0.034},{"t":"2500","x":2059,"y":0.044},{"t":"2500","x":2062,"y":0.051},{"t":"2500","x":2065,"y":0.056},{"t":"2500","x":2068,"y":0.057},{"t":"2500","x":2071,"y":0.054},{"t":"2500","x":2074,"y":0.047},{"t":"2500","x":2077,"y":0.041},{"t":"2500","x":2080,"y":0.039},{"t":"2500","x":2083,"y":0.041},{"t":"2500","x":2086,"y":0.047},{"t":"2500","x":2089,"y":0.053},{"t":"2500","x":2092,"y":0.058},{"t":"2500","x":2095,"y":0.062},{"t":"2500","x":2098,"y":0.067},{"t":"2500","x":2101,"y":0.058},{"t":"2500","x":2104,"y":0.05},{"t":"2500","x":2107,"y":0.043},{"t":"2500","x":2110,"y":0.037},{"t":"2500","x":2113,"y":0.034},{"t":"2500","x":2116,"y":0.031},{"t":"2500","x":2119,"y":0.031},{"t":"2500","x":2122,"y":0.032},{"t":"2500","x":2125,"y":0.035},{"t":"2500","x":2128,"y":0.038},{"t":"2500","x":2131,"y":0.041},{"t":"2500","x":2134,"y":0.043},{"t":"2500","x":2137,"y":0.04},{"t":"2500","x":2140,"y":0.053},{"t":"2500","x":2142,"y":0.036},{"t":"2500","x":2144,"y":0.029},{"t":"2500","x":2146,"y":0.024},{"t":"2500","x":2148,"y":0.01},{"t":"2500","x":2150,"y":-0.001},{"t":"2500","x":2152,"y":-0.012},{"t":"2500","x":2154,"y":-0.032},{"t":"2500","x":2156,"y":-0.053},{"t":"2500","x":2158,"y":-0.074},{"t":"2500","x":2160,"y":-0.094},{"t":"2500","x":2162,"y":-0.101},{"t":"2500","x":2164,"y":-0.096},{"t":"2500","x":2166,"y":-0.082},{"t":"2500","x":2168,"y":-0.06},{"t":"2500","x":2170,"y":-0.035},{"t":"2500","x":2172,"y":-0.013},{"t":"2500","x":2174,"y":0.002},{"t":"2500","x":2176,"y":0.009},{"t":"2500","x":2178,"y":0.016},{"t":"2500","x":2180,"y":0.002},{"t":"2500","x":2182,"y":-0.014},{"t":"2500","x":2184,"y":-0.008}
],
"notes": [
{"x":2035.9,"y":0.0712,"label":"INC* or"},
{"x":2039.0,"y":0.0568,"label":"CN-acetone"},
{"x":2068.1,"y":0.0726,"label":"INC"},
{"x":2097.7,"y":0.0801,"label":"HCN"},
{"x":2142.8,"y":0.0774,"label":"ICN*"},
{"x":2149.8,"y":-0.0897,"label":"ICN"}
],
"arrow": [{"x1":2033.2,"y1":0.045,"x2":2037.0,"y2":0.029}]
},
"layer": [
{
"data": {"name": "spectra"},
"mark": {"type": "line", "strokeWidth": 1.3, "clip": true},
"encoding": {
"x": {"field": "x", "type": "quantitative", "scale": {"domain": [2019.7, 2183.8], "nice": false, "zero": false},
"axis": {"orient": "bottom", "values": [2025, 2037.5, 2050, 2062.5, 2075, 2087.5, 2100, 2112.5, 2125, 2137.5, 2150, 2162.5, 2175],
"labelExpr": "datum.value % 25 === 0 ? format(datum.value, 'd') : ''",
"tickSize": {"condition": {"test": "datum.value % 25 === 0", "value": 7}, "value": 4},
"tickColor": "black", "tickWidth": 1.5, "domain": false, "grid": false, "labelOverlap": false, "labelFlush": false,
"labelFontSize": 18, "labelColor": "black", "labelPadding": 4,
"title": "Wavenumber /cm⁻¹", "titleFontSize": 20, "titleFontWeight": "normal", "titleColor": "black", "titleY": 64, "titleBaseline": "alphabetic"}},
"y": {"field": "y", "type": "quantitative", "scale": {"domain": [-0.1102, 0.1], "nice": false, "zero": false},
"axis": {"orient": "left", "values": [-0.1, -0.075, -0.05, -0.025, 0, 0.025, 0.05, 0.075, 0.1],
"labelExpr": "round(datum.value*1000) % 50 === 0 ? replace(format(datum.value, '.2f'), '\u2212', '-') : ''",
"tickSize": {"condition": {"test": "round(datum.value*1000) % 50 === 0", "value": 7}, "value": 4},
"tickColor": "black", "tickWidth": 1.5, "domain": false, "grid": false, "labelOverlap": false, "labelFlush": false,
"labelFontSize": 18, "labelColor": "black", "labelPadding": 4,
"title": "ΔOD / mOD", "titleFontSize": 20, "titleFontWeight": "normal", "titleColor": "black", "titleX": -72, "titleY": 213, "titleAlign": "center", "titleBaseline": "middle"}},
"color": {"field": "t", "type": "nominal",
"scale": {"domain": ["1","2","3","5","7","15","30","50","75","100","200","500","1000","1500","2500"],
"range": ["#1f4b7a","#2a80ba","#2d9fd8","#27b4e6","#56c6f0","#4a9bd2","#4a82b8","#4c4b7a","#6e2036","#8e1f31","#b5242f","#d9282d","#ec5427","#f47d27","#f9a832"]},
"legend": {"orient": "none", "legendX": 0, "legendY": 214, "values": ["1","7","30","75","500","2500"],
"title": "Time / ps", "titleFontSize": 20, "titleFontWeight": "normal", "titleColor": "black", "titlePadding": 3,
"labelFontSize": 20, "labelColor": "black", "symbolType": "M-5,0H5", "symbolSize": 100, "symbolStrokeWidth": 2, "symbolOffset": 19,
"strokeColor": "black", "fillColor": "white", "padding": 7, "rowPadding": 7.3, "labelOffset": 19}}
}
},
{
"data": {"name": "notes"},
"mark": {"type": "text", "fontSize": 20, "font": "Liberation Sans", "color": "black", "align": "center", "baseline": "middle"},
"encoding": {
"x": {"field": "x", "type": "quantitative", "scale": {"domain": [2019.7, 2183.8], "nice": false, "zero": false},
"axis": {"orient": "top", "values": [2025, 2037.5, 2050, 2062.5, 2075, 2087.5, 2100, 2112.5, 2125, 2137.5, 2150, 2162.5, 2175],
"labels": false, "title": null, "domain": false, "grid": false, "tickColor": "black", "tickWidth": 1.5,
"tickSize": {"condition": {"test": "datum.value % 25 === 0", "value": -7}, "value": -4}}},
"y": {"field": "y", "type": "quantitative", "scale": {"domain": [-0.1102, 0.1], "nice": false, "zero": false},
"axis": {"orient": "right", "values": [-0.1, -0.075, -0.05, -0.025, 0, 0.025, 0.05, 0.075, 0.1],
"labels": false, "title": null, "domain": false, "grid": false, "tickColor": "black", "tickWidth": 1.5,
"tickSize": {"condition": {"test": "round(datum.value*1000) % 50 === 0", "value": -7}, "value": -4}}},
"text": {"field": "label", "type": "nominal"}
}
},
{
"data": {"name": "arrow"},
"mark": {"type": "rule", "color": "black", "strokeWidth": 1.2},
"encoding": {
"x": {"field": "x1", "type": "quantitative", "scale": {"domain": [2019.7, 2183.8], "nice": false, "zero": false}, "axis": null},
"y": {"field": "y1", "type": "quantitative", "scale": {"domain": [-0.1102, 0.1], "nice": false, "zero": false}, "axis": null},
"x2": {"field": "x2"},
"y2": {"field": "y2"}
}
},
{
"data": {"name": "arrow"},
"mark": {"type": "point", "shape": "triangle-down", "filled": true, "color": "black", "opacity": 1, "size": 45, "angle": 339},
"encoding": {
"x": {"field": "x2", "type": "quantitative", "scale": {"domain": [2019.7, 2183.8], "nice": false, "zero": false}, "axis": null},
"y": {"field": "y2", "type": "quantitative", "scale": {"domain": [-0.1102, 0.1], "nice": false, "zero": false}, "axis": null}
}
}
],
"resolve": {"axis": {"x": "independent", "y": "independent"}}
}
